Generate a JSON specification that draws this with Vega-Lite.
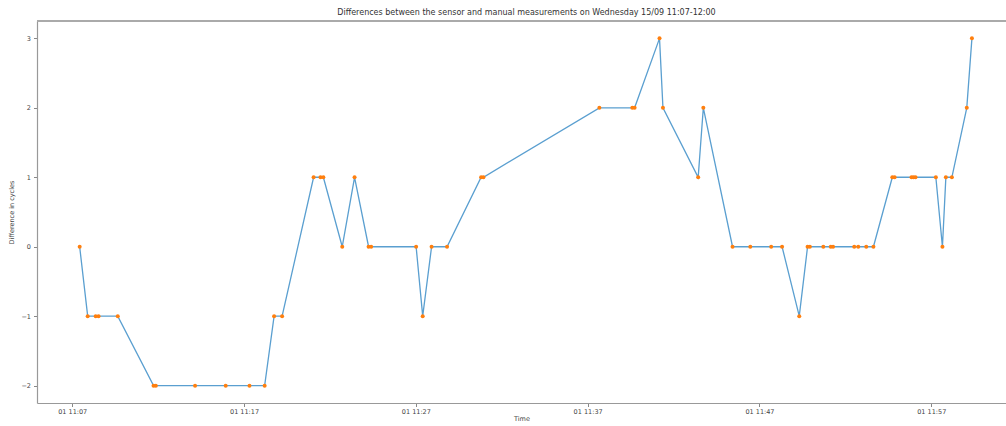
{
  "$schema": "https://vega.github.io/schema/vega-lite/v6.json",
  "width": 969,
  "height": 382,
  "autosize": "none",
  "padding": {"left": 37, "top": 21, "right": 0, "bottom": 23},
  "background": "white",
  "config": {
    "view": {"stroke": null},
    "font": "DejaVu Sans"
  },
  "title": {
    "text": "Differences between the sensor and manual measurements on Wednesday 15/09 11:07-12:00",
    "fontSize": 8,
    "fontWeight": "normal",
    "color": "#333",
    "font": "DejaVu Sans",
    "offset": 3,
    "dx": 5
  },
  "data": {
    "values": [
      {"time": "2000-01-01T11:07:26", "diff": 0},
      {"time": "2000-01-01T11:07:54", "diff": -1},
      {"time": "2000-01-01T11:08:22", "diff": -1},
      {"time": "2000-01-01T11:08:32", "diff": -1},
      {"time": "2000-01-01T11:09:39", "diff": -1},
      {"time": "2000-01-01T11:11:44", "diff": -2},
      {"time": "2000-01-01T11:11:52", "diff": -2},
      {"time": "2000-01-01T11:14:09", "diff": -2},
      {"time": "2000-01-01T11:15:56", "diff": -2},
      {"time": "2000-01-01T11:17:19", "diff": -2},
      {"time": "2000-01-01T11:18:12", "diff": -2},
      {"time": "2000-01-01T11:18:45", "diff": -1},
      {"time": "2000-01-01T11:19:13", "diff": -1},
      {"time": "2000-01-01T11:21:03", "diff": 1},
      {"time": "2000-01-01T11:21:27", "diff": 1},
      {"time": "2000-01-01T11:21:37", "diff": 1},
      {"time": "2000-01-01T11:22:43", "diff": 0},
      {"time": "2000-01-01T11:23:26", "diff": 1},
      {"time": "2000-01-01T11:24:15", "diff": 0},
      {"time": "2000-01-01T11:24:24", "diff": 0},
      {"time": "2000-01-01T11:27:01", "diff": 0},
      {"time": "2000-01-01T11:27:24", "diff": -1},
      {"time": "2000-01-01T11:27:55", "diff": 0},
      {"time": "2000-01-01T11:28:49", "diff": 0},
      {"time": "2000-01-01T11:30:48", "diff": 1},
      {"time": "2000-01-01T11:30:56", "diff": 1},
      {"time": "2000-01-01T11:37:41", "diff": 2},
      {"time": "2000-01-01T11:39:36", "diff": 2},
      {"time": "2000-01-01T11:39:44", "diff": 2},
      {"time": "2000-01-01T11:41:11", "diff": 3},
      {"time": "2000-01-01T11:41:23", "diff": 2},
      {"time": "2000-01-01T11:43:26", "diff": 1},
      {"time": "2000-01-01T11:43:44", "diff": 2},
      {"time": "2000-01-01T11:45:26", "diff": 0},
      {"time": "2000-01-01T11:46:28", "diff": 0},
      {"time": "2000-01-01T11:47:41", "diff": 0},
      {"time": "2000-01-01T11:48:19", "diff": 0},
      {"time": "2000-01-01T11:49:19", "diff": -1},
      {"time": "2000-01-01T11:49:48", "diff": 0},
      {"time": "2000-01-01T11:49:56", "diff": 0},
      {"time": "2000-01-01T11:50:43", "diff": 0},
      {"time": "2000-01-01T11:51:09", "diff": 0},
      {"time": "2000-01-01T11:51:17", "diff": 0},
      {"time": "2000-01-01T11:52:31", "diff": 0},
      {"time": "2000-01-01T11:52:45", "diff": 0},
      {"time": "2000-01-01T11:53:13", "diff": 0},
      {"time": "2000-01-01T11:53:38", "diff": 0},
      {"time": "2000-01-01T11:54:44", "diff": 1},
      {"time": "2000-01-01T11:54:52", "diff": 1},
      {"time": "2000-01-01T11:55:51", "diff": 1},
      {"time": "2000-01-01T11:55:58", "diff": 1},
      {"time": "2000-01-01T11:56:05", "diff": 1},
      {"time": "2000-01-01T11:57:16", "diff": 1},
      {"time": "2000-01-01T11:57:39", "diff": 0},
      {"time": "2000-01-01T11:57:51", "diff": 1},
      {"time": "2000-01-01T11:58:12", "diff": 1},
      {"time": "2000-01-01T11:59:04", "diff": 2},
      {"time": "2000-01-01T11:59:22", "diff": 3}
    ]
  },
  "encoding": {
    "x": {
      "field": "time",
      "type": "temporal",
      "scale": {
        "domain": [
          {"year": 2000, "month": 1, "date": 1, "hours": 11, "minutes": 4, "seconds": 57},
          {"year": 2000, "month": 1, "date": 1, "hours": 12, "minutes": 1, "seconds": 21}
        ],
        "nice": false
      },
      "axis": {
        "title": "Time",
        "titleFontSize": 6.5,
        "titleFontWeight": "normal",
        "titleColor": "#444",
        "titlePadding": 0,
        "values": [
          {"year": 2000, "month": 1, "date": 1, "hours": 11, "minutes": 7},
          {"year": 2000, "month": 1, "date": 1, "hours": 11, "minutes": 17},
          {"year": 2000, "month": 1, "date": 1, "hours": 11, "minutes": 27},
          {"year": 2000, "month": 1, "date": 1, "hours": 11, "minutes": 37},
          {"year": 2000, "month": 1, "date": 1, "hours": 11, "minutes": 47},
          {"year": 2000, "month": 1, "date": 1, "hours": 11, "minutes": 57}
        ],
        "format": "%d %H:%M",
        "grid": false,
        "labelFontSize": 6.5,
        "labelColor": "#444",
        "labelPadding": 2,
        "tickSize": 3.5,
        "tickColor": "#888",
        "domainColor": "#999",
        "domainWidth": 1.2,
        "labelFlush": false,
        "labelOverlap": false
      }
    },
    "y": {
      "field": "diff",
      "type": "quantitative",
      "scale": {"domain": [-2.25, 3.25], "nice": false, "zero": false},
      "axis": {
        "title": "Difference in cycles",
        "titleFontSize": 6.5,
        "titleFontWeight": "normal",
        "titleColor": "#444",
        "titlePadding": 6,
        "values": [-2, -1, 0, 1, 2, 3],
        "format": "d",
        "grid": false,
        "labelFontSize": 6.5,
        "labelColor": "#444",
        "labelPadding": 3,
        "tickSize": 3.5,
        "tickColor": "#888",
        "domainColor": "#999",
        "domainWidth": 1.2
      }
    }
  },
  "layer": [
    {
      "mark": {"type": "line", "color": "#5a9fd0", "strokeWidth": 1.3}
    },
    {
      "mark": {"type": "point", "filled": true, "color": "#ff7f0e", "size": 16, "opacity": 1}
    },
    {
      "mark": {"type": "rule", "color": "#aaa", "strokeWidth": 1.2},
      "encoding": {
        "x": null,
        "y": {"datum": 3.25, "type": "quantitative"}
      }
    }
  ]
}
